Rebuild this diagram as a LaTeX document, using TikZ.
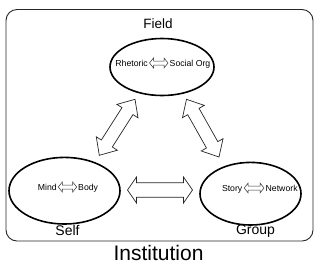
\documentclass[tikz,border=0pt]{standalone}
\usepackage{fontspec}
\setmainfont{Liberation Sans}
\usetikzlibrary{calc}
\tikzset{
  frame/.style={draw=black!85, line width=0.9pt, rounded corners=11pt},
  circ/.style={draw=black, line width=1.6pt},
  hollow/.style={draw=black!85, line width=0.7pt, fill=white, line join=miter},
  smallhollow/.style={draw=black!80, line width=0.5pt, fill=white},
  biglabel/.style={inner sep=0pt, anchor=base, font=\fontsize{14}{14}\selectfont},
  smalllabel/.style={inner sep=0pt, font=\fontsize{8.7}{9}\selectfont},
}
% #1 from, #2 to, #3 head length, #4 head half width, #5 shaft half width, #6 style
\newcommand\hollowarrow[6]{%
  \path ($(#1)!#3!(#2)$) coordinate (ha) ($(#2)!#3!(#1)$) coordinate (hb);
  \draw[#6] (#1) -- ($(ha)!#4!90:(#2)$) -- ($(ha)!#5!90:(#2)$)
    -- ($(hb)!#5!-90:(#1)$) -- ($(hb)!#4!-90:(#1)$) -- (#2)
    -- ($(hb)!#4!90:(#1)$) -- ($(hb)!#5!90:(#1)$)
    -- ($(ha)!#5!-90:(#2)$) -- ($(ha)!#4!-90:(#2)$) -- cycle;}
\begin{document}
\begin{tikzpicture}[x=1pt,y=-1pt]
\useasboundingbox (0,0) rectangle (320,269);
\fill[white] (0,0) rectangle (320,269);
\draw[frame] (6,9.5) rectangle (313,241);

% ellipses
\draw[circ] (162,67) ellipse [x radius=52, y radius=28.5];
\draw[circ] (64.5,190.7) ellipse [x radius=55.5, y radius=33.3];
\draw[circ] (250.5,193.7) ellipse [x radius=50.5, y radius=31.3];
\coordinate (field) at (162,67);
\coordinate (self) at (64.5,190.7);
\coordinate (group) at (250.5,193.7);

% big labels
\node[biglabel, font=\fontsize{13.5}{14}\selectfont] (lfield) at (158,28.7) {Field};
\node[biglabel] (lself) at (67.5,235) {Self};
\node[biglabel] (lgroup) at (255.5,234.3) {Group};
\node[biglabel, font=\fontsize{21}{22}\selectfont] (linst) at (158.5,260.2) {Institution};

% inner texts
\node[smalllabel, anchor=base east] (rh) at (148,66) {Rhetoric};
\node[smalllabel, anchor=base west] (so) at (169.5,66) {Social Org};
\coordinate (rha) at (149.5,63);
\coordinate (sob) at (168,63);
\hollowarrow{rha}{sob}{4pt}{5pt}{2pt}{smallhollow}

\node[smalllabel, anchor=base east] (mi) at (57,190) {Mind};
\node[smalllabel, anchor=base west] (bo) at (78,190) {Body};
\coordinate (mia) at (58.3,187);
\coordinate (bob) at (76.7,187);
\hollowarrow{mia}{bob}{4pt}{5pt}{2pt}{smallhollow}

\node[smalllabel, anchor=base east] (st) at (242.5,191) {Story};
\node[smalllabel, anchor=base west] (ne) at (265.5,191) {Network};
\coordinate (sta) at (244.2,188);
\coordinate (neb) at (264,188);
\hollowarrow{sta}{neb}{4pt}{5pt}{2pt}{smallhollow}

% big connectors
\coordinate (a1) at (135,99.3);
\coordinate (a2) at (99.3,155.3);
\hollowarrow{a1}{a2}{14pt}{12.5pt}{6.5pt}{hollow}
\coordinate (b1) at (186.5,99.3);
\coordinate (b2) at (219,157);
\hollowarrow{b1}{b2}{14pt}{12.5pt}{6.5pt}{hollow}
\coordinate (c1) at (127.5,190);
\coordinate (c2) at (192.5,190);
\hollowarrow{c1}{c2}{9pt}{13pt}{7.3pt}{hollow}
\end{tikzpicture}
\end{document}
